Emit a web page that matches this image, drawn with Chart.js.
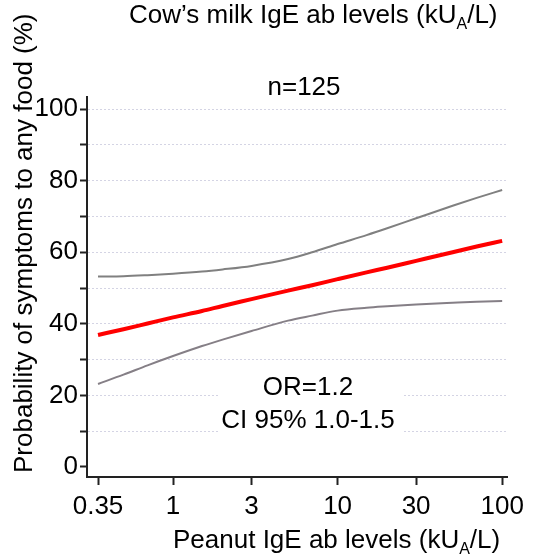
<!DOCTYPE html>
<html>
<head>
<meta charset="utf-8">
<script src="https://cdn.jsdelivr.net/npm/chart.js@4"></script>
<style>
  html, body { margin: 0; padding: 0; background: #fff; }
  #wrap { width: 534px; height: 558px; position: relative; }
</style>
</head>
<body>
<div id="wrap"><canvas id="chart"></canvas></div>
<script>
// IgE kacang (kUA/L) dan probabilitas gejala (%)
const igeLevels = [0.35, 0.5, 0.7, 1, 1.5, 2, 3, 5, 7, 10, 15, 20, 30, 50, 70, 100];
const probability = [36.9, 38.5, 40.1, 41.8, 43.6, 45.0, 46.9, 49.3, 50.8, 52.5, 54.4, 55.7, 57.6, 60.0, 61.6, 63.2];
const upperCI = [53.2, 53.3, 53.6, 54.0, 54.6, 55.2, 56.2, 58.1, 60.0, 62.3, 64.8, 66.7, 69.5, 73.0, 75.2, 77.4];
const lowerCI = [23.2, 25.8, 28.4, 31.0, 33.8, 35.6, 38.0, 40.9, 42.3, 43.7, 44.5, 44.9, 45.4, 45.9, 46.2, 46.4];

const xTicks = [0.35, 1, 3, 10, 30, 100];
const yTicks = [0, 10, 20, 30, 40, 50, 60, 70, 80, 90, 100];

const FONT = '"Liberation Sans", Arial, sans-serif';

function toPoints(vals) {
  return igeLevels.map((x, i) => ({ x: x, y: vals[i] }));
}

// teks dengan subskrip (kU_A/L)
function drawRich(ctx, parts, x, y, size) {
  let cx = x;
  parts.forEach(p => {
    const s = p.sub ? Math.round(size * 0.62) : size;
    ctx.font = s + "px " + FONT;
    ctx.fillText(p.t, cx, p.sub ? y + 6 : y);
    cx += ctx.measureText(p.t).width;
  });
}

const textPlugin = {
  id: "texts",
  afterDraw(chart) {
    const ctx = chart.ctx;
    ctx.save();
    ctx.fillStyle = "#000";
    ctx.textAlign = "left";
    ctx.textBaseline = "alphabetic";

    drawRich(ctx, [{ t: "Cow\u2019s milk IgE ab levels (kU" }, { t: "A", sub: true }, { t: "/L)" }], 129, 23, 26);

    ctx.font = "26px " + FONT;
    ctx.textAlign = "center";
    ctx.fillText("n=125", 304, 95);

    ctx.textAlign = "left";
    drawRich(ctx, [{ t: "Peanut IgE ab levels (kU" }, { t: "A", sub: true }, { t: "/L)" }], 173, 548, 26);

    // judul sumbu y
    ctx.save();
    ctx.translate(32, 473);
    ctx.rotate(-Math.PI / 2);
    ctx.font = "26px " + FONT;
    ctx.fillText("Probability of symptoms to any food (%)", 0, 0);
    ctx.restore();

    // kotak OR
    ctx.fillStyle = "#fff";
    ctx.fillRect(218, 363, 185, 76);
    ctx.fillStyle = "#000";
    ctx.textAlign = "center";
    ctx.font = "26px " + FONT;
    ctx.fillText("OR=1.2", 308, 395);
    ctx.fillText("CI 95% 1.0-1.5", 308, 428);
    ctx.restore();
  }
};

let ctx = document.getElementById("chart").getContext("2d");
let chart = new Chart(ctx, {
  type: "line",
  data: {
    datasets: [
      { data: toPoints(upperCI), borderColor: "#808080", borderWidth: 2 },
      { data: toPoints(lowerCI), borderColor: "#857f86", borderWidth: 2 },
      { data: toPoints(probability), borderColor: "#ff0000", borderWidth: 4 }
    ]
  },
  options: {
    responsive: true,
    maintainAspectRatio: false,
    animation: false,
    elements: {
      point: { radius: 0 },
      line: { cubicInterpolationMode: "monotone", borderCapStyle: "butt" }
    },
    plugins: {
      legend: { display: false },
      tooltip: { enabled: false }
    },
    layout: {
      padding: { top: 97, right: 27, left: 0, bottom: 0 }
    },
    scales: {
      x: {
        type: "logarithmic",
        min: 0.304,
        max: 107,
        afterBuildTicks: s => { s.ticks = xTicks.map(v => ({ value: v })); },
        afterFit: s => { s.height = 81; },
        ticks: {
          color: "#000",
          font: { family: FONT, size: 26 },
          padding: 6,
          maxRotation: 0,
          autoSkip: false,
          callback: v => String(v)
        },
        grid: {
          drawOnChartArea: false,
          tickLength: 8,
          tickColor: "#222",
          tickWidth: 2
        },
        border: { color: "#222", width: 2 }
      },
      y: {
        min: -2.8,
        max: 103.4,
        afterBuildTicks: s => { s.ticks = yTicks.map(v => ({ value: v })); },
        afterFit: s => { s.width = 87; },
        ticks: {
          color: "#000",
          font: { family: FONT, size: 26 },
          padding: 2,
          callback: v => (v % 20 === 0 ? String(v) : "")
        },
        grid: {
          color: c => (c.tick && c.tick.value === 0 ? "rgba(0,0,0,0)" : "#d4d4e4"),
          lineWidth: 1,
          tickLength: 7,
          tickColor: "#222",
          tickWidth: 2
        },
        border: { color: "#222", width: 2, dash: [2, 2] }
      }
    }
  },
  plugins: [textPlugin]
});
</script>
</body>
</html>
